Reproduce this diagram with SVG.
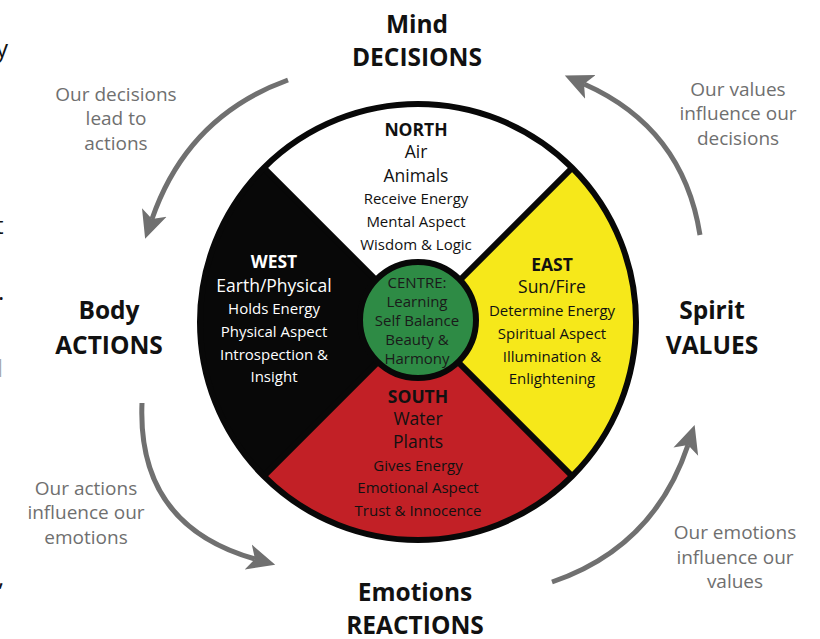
<svg xmlns="http://www.w3.org/2000/svg" width="820" height="639" viewBox="0 0 820 639">
<defs>
<style>
text{font-family:"Open Sans","Noto Sans",sans-serif;text-anchor:middle}
.big{font-size:24.5px;font-weight:bold;fill:#111}
.hd{font-size:17.5px;font-weight:bold}
.md{font-size:17.5px}
.sm{font-size:15px}
.cap{font-size:19px;fill:#6f6f6f}
.arc{fill:none;stroke:#707070;stroke-width:5}
.frag{font-size:24px;text-anchor:start;fill:#111}
</style>
<marker id="ah" viewBox="0 -14 30 28" refX="7" refY="0" markerWidth="30" markerHeight="28" markerUnits="userSpaceOnUse" orient="auto">
<path d="M0,-13 L28,0 L0,13 L7,0 Z" fill="#707070"/>
</marker>
</defs>
<rect width="820" height="639" fill="#fff"/>

<g id="fragments">
<text class="frag" x="-4" y="57">y</text>
<text class="frag" x="-5" y="234">t</text>
<text class="frag" x="-2" y="300">.</text>
<text class="frag" x="-3" y="377" style="fill:#aaa">l</text>
<text class="frag" x="-2" y="586">,</text>
</g>

<g id="north">
<path d="M418,322 L263.9,167.9 A218,218 0 0 1 572.1,167.9 Z" fill="#fff"/>
<text class="hd" x="416" y="136" fill="#111">NORTH</text>
<text class="md" x="416" y="158" fill="#111">Air</text>
<text class="md" x="416" y="182" fill="#111">Animals</text>
<text class="sm" x="416" y="204" fill="#111">Receive Energy</text>
<text class="sm" x="416" y="227" fill="#111">Mental Aspect</text>
<text class="sm" x="416" y="250" fill="#111">Wisdom &amp; Logic</text>
</g>

<g id="east">
<path d="M418,322 L572.1,167.9 A218,218 0 0 1 572.1,476.1 Z" fill="#f6e81a"/>
<text class="hd" x="552" y="271" fill="#111">EAST</text>
<text class="md" x="552" y="293" fill="#111">Sun/Fire</text>
<text class="sm" x="552" y="316" fill="#111">Determine Energy</text>
<text class="sm" x="552" y="339" fill="#111">Spiritual Aspect</text>
<text class="sm" x="552" y="362" fill="#111">Illumination &amp;</text>
<text class="sm" x="552" y="384" fill="#111">Enlightening</text>
</g>

<g id="south">
<path d="M418,322 L572.1,476.1 A218,218 0 0 1 263.9,476.1 Z" fill="#c22026"/>
<text class="hd" x="418" y="403" fill="#111">SOUTH</text>
<text class="md" x="418" y="425" fill="#111">Water</text>
<text class="md" x="418" y="448" fill="#111">Plants</text>
<text class="sm" x="418" y="471" fill="#111">Gives Energy</text>
<text class="sm" x="418" y="493" fill="#111">Emotional Aspect</text>
<text class="sm" x="418" y="516" fill="#111">Trust &amp; Innocence</text>
</g>

<g id="west">
<path d="M418,322 L263.9,476.1 A218,218 0 0 1 263.9,167.9 Z" fill="#080808"/>
<text class="hd" x="274" y="268" fill="#fff">WEST</text>
<text class="md" x="274" y="292" fill="#fff">Earth/Physical</text>
<text class="sm" x="274" y="314" fill="#fff">Holds Energy</text>
<text class="sm" x="274" y="337" fill="#fff">Physical Aspect</text>
<text class="sm" x="274" y="360" fill="#fff">Introspection &amp;</text>
<text class="sm" x="274" y="382" fill="#fff">Insight</text>
</g>

<g id="wheel-lines" fill="none" stroke="#080808" stroke-width="6">
<line x1="263.9" y1="167.9" x2="572.1" y2="476.1"/>
<line x1="572.1" y1="167.9" x2="263.9" y2="476.1"/>
<circle cx="418" cy="322" r="218"/>
</g>

<g id="centre">
<circle cx="418" cy="320" r="58" fill="#2e8b45" stroke="#080808" stroke-width="6"/>
<text class="sm" x="417" y="288" fill="#1a1a1a">CENTRE:</text>
<text class="sm" x="417" y="307" fill="#1a1a1a">Learning</text>
<text class="sm" x="417" y="326" fill="#1a1a1a">Self Balance</text>
<text class="sm" x="417" y="345" fill="#1a1a1a">Beauty &amp;</text>
<text class="sm" x="417" y="364" fill="#1a1a1a">Harmony</text>
</g>

<g id="mind">
<text class="big" x="417" y="33">Mind</text>
<text class="big" x="417" y="66">DECISIONS</text>
</g>
<g id="body">
<text class="big" x="109" y="319">Body</text>
<text class="big" x="109" y="354">ACTIONS</text>
</g>
<g id="spirit">
<text class="big" x="712" y="319">Spirit</text>
<text class="big" x="712" y="354">VALUES</text>
</g>
<g id="emotions">
<text class="big" x="415" y="601">Emotions</text>
<text class="big" x="415" y="634">REACTIONS</text>
</g>

<g id="connectors">
<path class="arc" d="M288,80 Q187.5,116.3 152,219" marker-end="url(#ah)"/>
<path class="arc" d="M700,235 Q683.2,127.9 584,84" marker-end="url(#ah)"/>
<path class="arc" d="M142,403 Q136.9,525.6 255,559" marker-end="url(#ah)"/>
<path class="arc" d="M552,582 Q654,547.3 688,445" marker-end="url(#ah)"/>
<text class="cap" x="116" y="101">Our decisions</text>
<text class="cap" x="116" y="125">lead to</text>
<text class="cap" x="116" y="150">actions</text>
<text class="cap" x="738" y="96">Our values</text>
<text class="cap" x="738" y="120">influence our</text>
<text class="cap" x="738" y="145">decisions</text>
<text class="cap" x="86" y="495">Our actions</text>
<text class="cap" x="86" y="519">influence our</text>
<text class="cap" x="86" y="544">emotions</text>
<text class="cap" x="735" y="539">Our emotions</text>
<text class="cap" x="735" y="564">influence our</text>
<text class="cap" x="735" y="588">values</text>
</g>
</svg>
